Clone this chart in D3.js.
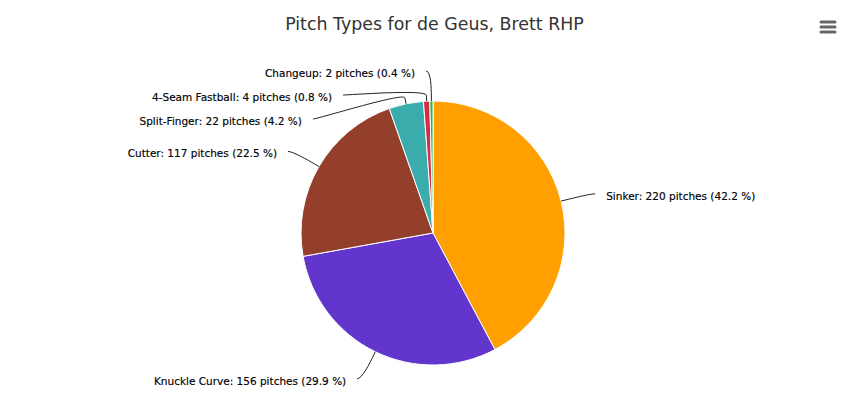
<!DOCTYPE html>
<html>
<head>
<meta charset="utf-8">
<script src="https://cdn.jsdelivr.net/npm/d3@7"></script>
<style>
  html, body { margin: 0; padding: 0; background: #fff; }
  svg { display: block; }
</style>
</head>
<body>
<div id="chart"></div>
<script>
const title = "Pitch Types for de Geus, Brett RHP";
const categories = ["Sinker", "Knuckle Curve", "Cutter", "Split-Finger", "4-Seam Fastball", "Changeup"];
const counts = [220, 156, 117, 22, 4, 2];
const colors = ["#FFA000", "#6236CD", "#933F2C", "#3BACAC", "#D22D49", "#1DBE3A"];

const W = 863, H = 416;
const cx = 433, cy = 233, r = 132;
const labelDistance = 30, connectorOffset = 6, lineGap = 24;

const total = d3.sum(counts);
const data = categories.map((c, i) => ({ name: c, value: counts[i], color: colors[i] }));

const svg = d3.select("#chart").append("svg").attr("width", W).attr("height", H);

svg.append("text")
  .attr("x", W / 2 + 3).attr("y", 30)
  .attr("text-anchor", "middle")
  .attr("font-family", "'DejaVu Sans', sans-serif")
  .attr("font-size", 17.4)
  .attr("fill", "#333333")
  .text(title);

// hamburger menu icon
const menu = svg.append("g");
[22, 27, 32].forEach(y => {
  menu.append("line").attr("x1", 821).attr("x2", 835).attr("y1", y).attr("y2", y)
    .attr("stroke", "#666").attr("stroke-width", 3).attr("stroke-linecap", "round");
});

const pie = d3.pie().value(d => d.value).sort(null);
const arcs = pie(data);
const arc = d3.arc().innerRadius(0).outerRadius(r);

const g = svg.append("g").attr("transform", `translate(${cx},${cy})`);
g.selectAll("path.slice").data(arcs).enter().append("path")
  .attr("class", "slice")
  .attr("d", arc)
  .attr("fill", d => d.data.color)
  .attr("stroke", "#fff").attr("stroke-width", 1).attr("stroke-linejoin", "round");

// label positions
const R = r + labelDistance;
arcs.forEach(a => {
  const mid = (a.startAngle + a.endAngle) / 2;
  a.mid = mid;
  a.left = Math.sin(mid) < 0;
  a.ny = -Math.cos(mid) * R; // relative to cy
});
function place(list) {
  list.sort((a, b) => a.ny - b.ny);
  let prev = -Infinity;
  list.forEach(a => { a.y = Math.max(a.ny, prev + lineGap); prev = a.y; });
}
place(arcs.filter(a => a.left));
place(arcs.filter(a => !a.left));
arcs.forEach(a => {
  const dy = Math.min(Math.abs(a.y), R);
  const dx = Math.sqrt(R * R - dy * dy);
  a.x = a.left ? -dx : dx;
});

const lg = svg.append("g").attr("transform", `translate(${cx},${cy})`);
arcs.forEach(a => {
  const s = a.left ? -1 : 1;
  const lx = a.x + s * 5, ly = a.y;
  const tx = Math.sin(a.mid) * r, ty = -Math.cos(a.mid) * r;
  const bx = Math.sin(a.mid) * (r + connectorOffset), by = -Math.cos(a.mid) * (r + connectorOffset);
  const p = d3.path();
  p.moveTo(lx, ly);
  p.bezierCurveTo(lx - s * 5, ly, 2 * bx - tx, 2 * by - ty, bx, by);
  p.lineTo(tx, ty);
  lg.append("path").attr("d", p.toString()).attr("fill", "none")
    .attr("stroke", "#222").attr("stroke-width", 1);
  const pct = (a.data.value / total * 100).toFixed(1);
  lg.append("text")
    .attr("x", a.x + s * 16).attr("y", a.y + 2)
    .attr("dominant-baseline", "central")
    .attr("text-anchor", a.left ? "end" : "start")
    .attr("font-family", "'DejaVu Sans', sans-serif")
    .attr("font-size", 10.5)
    .attr("fill", "#000")
    .attr("stroke", "#000").attr("stroke-width", 0.15)
    .text(`${a.data.name}: ${a.data.value} pitches (${pct} %)`);
});
</script>
</body>
</html>
